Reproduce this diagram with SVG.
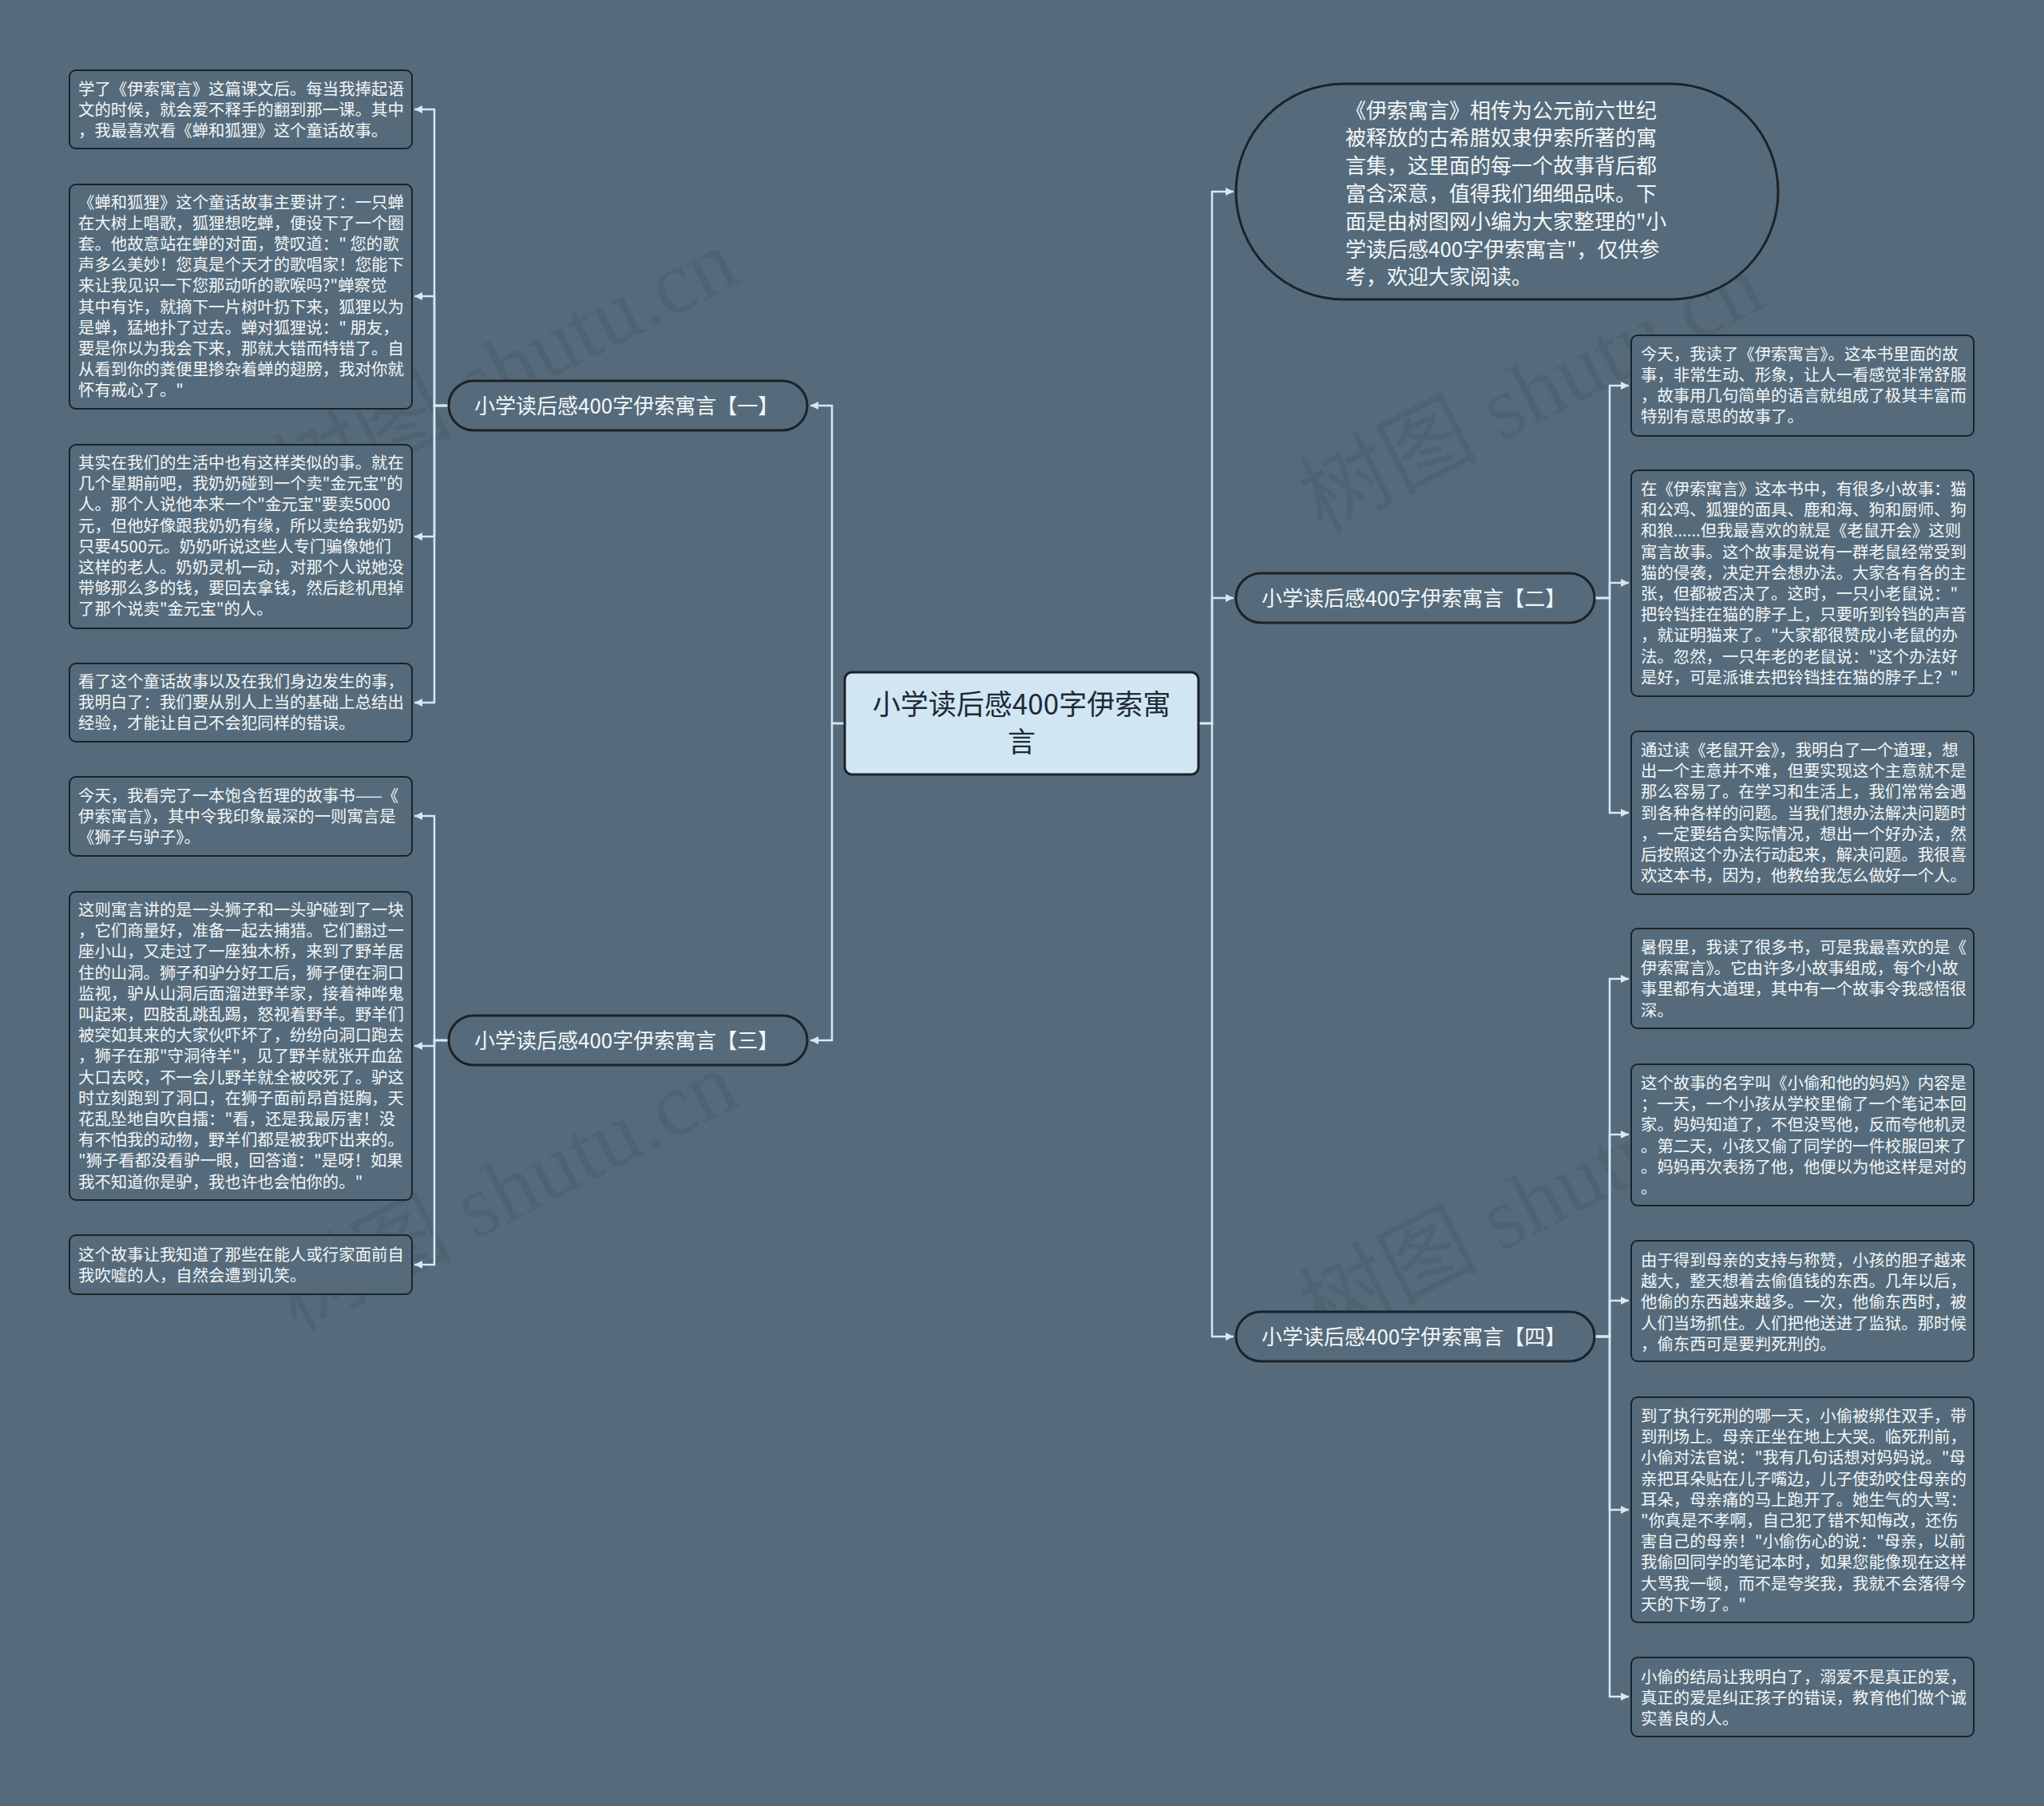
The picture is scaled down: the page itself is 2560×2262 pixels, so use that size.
<svg xmlns="http://www.w3.org/2000/svg" width="2560" height="2262" viewBox="0 0 2560 2262">
<defs>
<marker id="arr" markerUnits="userSpaceOnUse" markerWidth="12" markerHeight="12" refX="10" refY="5" orient="auto">
<path d="M0,0 L10,5 L0,10 z" fill="#d5e8f4"/>
</marker>
<style>
.bg{fill:#556b7b}
.leaf{fill:#556b7b;stroke:#1b2228;stroke-width:2}
.pill{fill:#556b7b;stroke:#1b2228;stroke-width:3}
.t{font-family:"Noto Sans CJK SC","Noto Sans",sans-serif;fill:#f3f6f8}
.lt{font-size:20.4px}
.bt{font-size:26px}
.ct{font-family:"Noto Sans CJK SC","Noto Sans",sans-serif;font-size:35px;fill:#1e2a33}
.edge{fill:none;stroke:#d5e8f4;stroke-width:2.5;marker-end:url(#arr)}
.wm{font-family:"Liberation Serif","Noto Sans CJK SC",serif;font-size:112px;fill:#3e4f5c;opacity:0.24}
</style>
</defs>
<rect class="bg" x="0" y="0" width="2560" height="2262"/>

<g id="watermarks">
<text class="wm" text-anchor="middle" transform="translate(650,495) rotate(-27)">树图 shutu.cn</text>
<text class="wm" text-anchor="middle" transform="translate(650,1525) rotate(-27)">树图 shutu.cn</text>
<text class="wm" text-anchor="middle" transform="translate(1935,525) rotate(-27)">树图 shutu.cn</text>
<text class="wm" text-anchor="middle" transform="translate(1935,1540) rotate(-27)">树图 shutu.cn</text>
</g>

<g id="connectors">
<path class="edge" d="M1058,906 H1042 V508 H1015"/>
<path class="edge" d="M1058,906 H1042 V1303 H1015"/>
<path class="edge" d="M1501,906 H1518 V240 H1545"/>
<path class="edge" d="M1501,906 H1518 V749 H1545"/>
<path class="edge" d="M1501,906 H1518 V1674 H1545"/>
<path class="edge" d="M562,508 H544 V137 H519"/>
<path class="edge" d="M562,508 H544 V371 H519"/>
<path class="edge" d="M562,508 H544 V672 H519"/>
<path class="edge" d="M562,508 H544 V880 H519"/>
<path class="edge" d="M562,1303 H544 V1022 H519"/>
<path class="edge" d="M562,1303 H544 V1310 H519"/>
<path class="edge" d="M562,1303 H544 V1584 H519"/>
<path class="edge" d="M1995,749 H2016 V483 H2040"/>
<path class="edge" d="M1995,749 H2016 V730 H2040"/>
<path class="edge" d="M1995,749 H2016 V1018 H2040"/>
<path class="edge" d="M1995,1674 H2016 V1226 H2040"/>
<path class="edge" d="M1995,1674 H2016 V1421 H2040"/>
<path class="edge" d="M1995,1674 H2016 V1629 H2040"/>
<path class="edge" d="M1995,1674 H2016 V1891 H2040"/>
<path class="edge" d="M1995,1674 H2016 V2125 H2040"/>
</g>

<g id="center">
<rect x="1058" y="842" width="443" height="128" rx="9" fill="#d0e6f3" stroke="#1b2228" stroke-width="3"/>
<text class="ct" text-anchor="middle"><tspan x="1279.5" y="895">小学读后感400字伊索寓</tspan><tspan x="1279.5" y="942">言</tspan></text>
</g>

<g id="intro">
<rect class="pill" x="1548" y="105" width="679" height="270" rx="135"/>
<text class="t bt"><tspan x="1685" y="147.5">《伊索寓言》相传为公元前六世纪</tspan><tspan x="1685" dy="34.8">被释放的古希腊奴隶伊索所著的寓</tspan><tspan x="1685" dy="34.8">言集，这里面的每一个故事背后都</tspan><tspan x="1685" dy="34.8">富含深意，值得我们细细品味。下</tspan><tspan x="1685" dy="34.8">面是由树图网小编为大家整理的"小</tspan><tspan x="1685" dy="34.8">学读后感400字伊索寓言"，仅供参</tspan><tspan x="1685" dy="34.8">考，欢迎大家阅读。</tspan></text>
</g>

<g id="branch1">
<rect class="pill" x="562" y="477" width="449" height="62" rx="31"/>
<text class="t bt" x="594" y="517.5">小学读后感400字伊索寓言【一】</text>
</g>
<g id="branch3">
<rect class="pill" x="562" y="1272" width="449" height="62" rx="31"/>
<text class="t bt" x="594" y="1312.5">小学读后感400字伊索寓言【三】</text>
</g>
<g id="branch2">
<rect class="pill" x="1548" y="718" width="449" height="62" rx="31"/>
<text class="t bt" x="1580" y="758.5">小学读后感400字伊索寓言【二】</text>
</g>
<g id="branch4">
<rect class="pill" x="1548" y="1643" width="449" height="62" rx="31"/>
<text class="t bt" x="1580" y="1683.5">小学读后感400字伊索寓言【四】</text>
</g>

<g id="leaf-l1">
<rect class="leaf" x="87" y="88" width="429" height="98" rx="8"/>
<text class="t lt"><tspan x="98" y="119">学了《伊索寓言》这篇课文后。每当我捧起语</tspan><tspan x="98" dy="26.2">文的时候，就会爱不释手的翻到那一课。其中</tspan><tspan x="98" dy="26.2">，我最喜欢看《蝉和狐狸》这个童话故事。</tspan></text>
</g>
<g id="leaf-l2">
<rect class="leaf" x="87" y="231" width="429" height="281" rx="8"/>
<text class="t lt"><tspan x="98" y="260.5">《蝉和狐狸》这个童话故事主要讲了：一只蝉</tspan><tspan x="98" dy="26.2">在大树上唱歌，狐狸想吃蝉，便设下了一个圈</tspan><tspan x="98" dy="26.2">套。他故意站在蝉的对面，赞叹道：" 您的歌</tspan><tspan x="98" dy="26.2">声多么美妙！您真是个天才的歌唱家！您能下</tspan><tspan x="98" dy="26.2">来让我见识一下您那动听的歌喉吗?"蝉察觉</tspan><tspan x="98" dy="26.2">其中有诈，就摘下一片树叶扔下来，狐狸以为</tspan><tspan x="98" dy="26.2">是蝉，猛地扑了过去。蝉对狐狸说：" 朋友，</tspan><tspan x="98" dy="26.2">要是你以为我会下来，那就大错而特错了。自</tspan><tspan x="98" dy="26.2">从看到你的粪便里掺杂着蝉的翅膀，我对你就</tspan><tspan x="98" dy="26.2">怀有戒心了。"</tspan></text>
</g>
<g id="leaf-l3">
<rect class="leaf" x="87" y="557" width="429" height="230" rx="8"/>
<text class="t lt"><tspan x="98" y="587">其实在我们的生活中也有这样类似的事。就在</tspan><tspan x="98" dy="26.2">几个星期前吧，我奶奶碰到一个卖"金元宝"的</tspan><tspan x="98" dy="26.2">人。那个人说他本来一个"金元宝"要卖5000</tspan><tspan x="98" dy="26.2">元，但他好像跟我奶奶有缘，所以卖给我奶奶</tspan><tspan x="98" dy="26.2">只要4500元。奶奶听说这些人专门骗像她们</tspan><tspan x="98" dy="26.2">这样的老人。奶奶灵机一动，对那个人说她没</tspan><tspan x="98" dy="26.2">带够那么多的钱，要回去拿钱，然后趁机甩掉</tspan><tspan x="98" dy="26.2">了那个说卖"金元宝"的人。</tspan></text>
</g>
<g id="leaf-l4">
<rect class="leaf" x="87" y="831" width="429" height="98" rx="8"/>
<text class="t lt"><tspan x="98" y="861">看了这个童话故事以及在我们身边发生的事，</tspan><tspan x="98" dy="26.2">我明白了：我们要从别人上当的基础上总结出</tspan><tspan x="98" dy="26.2">经验，才能让自己不会犯同样的错误。</tspan></text>
</g>
<g id="leaf-l5">
<rect class="leaf" x="87" y="973" width="429" height="99" rx="8"/>
<text class="t lt"><tspan x="98" y="1004">今天，我看完了一本饱含哲理的故事书——《</tspan><tspan x="98" dy="26.2">伊索寓言》，其中令我印象最深的一则寓言是</tspan><tspan x="98" dy="26.2">《狮子与驴子》。</tspan></text>
</g>
<g id="leaf-l6">
<rect class="leaf" x="87" y="1117" width="429" height="386" rx="8"/>
<text class="t lt"><tspan x="98" y="1147">这则寓言讲的是一头狮子和一头驴碰到了一块</tspan><tspan x="98" dy="26.2">，它们商量好，准备一起去捕猎。它们翻过一</tspan><tspan x="98" dy="26.2">座小山，又走过了一座独木桥，来到了野羊居</tspan><tspan x="98" dy="26.2">住的山洞。狮子和驴分好工后，狮子便在洞口</tspan><tspan x="98" dy="26.2">监视，驴从山洞后面溜进野羊家，接着神哗鬼</tspan><tspan x="98" dy="26.2">叫起来，四肢乱跳乱踢，怒视着野羊。野羊们</tspan><tspan x="98" dy="26.2">被突如其来的大家伙吓坏了，纷纷向洞口跑去</tspan><tspan x="98" dy="26.2">，狮子在那"守洞待羊"，见了野羊就张开血盆</tspan><tspan x="98" dy="26.2">大口去咬，不一会儿野羊就全被咬死了。驴这</tspan><tspan x="98" dy="26.2">时立刻跑到了洞口，在狮子面前昂首挺胸，天</tspan><tspan x="98" dy="26.2">花乱坠地自吹自擂："看，还是我最厉害！没</tspan><tspan x="98" dy="26.2">有不怕我的动物，野羊们都是被我吓出来的。</tspan><tspan x="98" dy="26.2">"狮子看都没看驴一眼，回答道："是呀！如果</tspan><tspan x="98" dy="26.2">我不知道你是驴，我也许也会怕你的。"</tspan></text>
</g>
<g id="leaf-l7">
<rect class="leaf" x="87" y="1547" width="429" height="74" rx="8"/>
<text class="t lt"><tspan x="98" y="1579">这个故事让我知道了那些在能人或行家面前自</tspan><tspan x="98" dy="26.2">我吹嘘的人，自然会遭到讥笑。</tspan></text>
</g>

<g id="leaf-r1">
<rect class="leaf" x="2043" y="420" width="429" height="126" rx="8"/>
<text class="t lt"><tspan x="2055" y="450.5">今天，我读了《伊索寓言》。这本书里面的故</tspan><tspan x="2055" dy="26.2">事，非常生动、形象，让人一看感觉非常舒服</tspan><tspan x="2055" dy="26.2">，故事用几句简单的语言就组成了极其丰富而</tspan><tspan x="2055" dy="26.2">特别有意思的故事了。</tspan></text>
</g>
<g id="leaf-r2">
<rect class="leaf" x="2043" y="589" width="429" height="283" rx="8"/>
<text class="t lt"><tspan x="2055" y="620">在《伊索寓言》这本书中，有很多小故事：猫</tspan><tspan x="2055" dy="26.2">和公鸡、狐狸的面具、鹿和海、狗和厨师、狗</tspan><tspan x="2055" dy="26.2">和狼......但我最喜欢的就是《老鼠开会》这则</tspan><tspan x="2055" dy="26.2">寓言故事。这个故事是说有一群老鼠经常受到</tspan><tspan x="2055" dy="26.2">猫的侵袭，决定开会想办法。大家各有各的主</tspan><tspan x="2055" dy="26.2">张，但都被否决了。这时，一只小老鼠说："</tspan><tspan x="2055" dy="26.2">把铃铛挂在猫的脖子上，只要听到铃铛的声音</tspan><tspan x="2055" dy="26.2">，就证明猫来了。"大家都很赞成小老鼠的办</tspan><tspan x="2055" dy="26.2">法。忽然，一只年老的老鼠说："这个办法好</tspan><tspan x="2055" dy="26.2">是好，可是派谁去把铃铛挂在猫的脖子上？"</tspan></text>
</g>
<g id="leaf-r3">
<rect class="leaf" x="2043" y="916" width="429" height="204" rx="8"/>
<text class="t lt"><tspan x="2055" y="947">通过读《老鼠开会》，我明白了一个道理，想</tspan><tspan x="2055" dy="26.2">出一个主意并不难，但要实现这个主意就不是</tspan><tspan x="2055" dy="26.2">那么容易了。在学习和生活上，我们常常会遇</tspan><tspan x="2055" dy="26.2">到各种各样的问题。当我们想办法解决问题时</tspan><tspan x="2055" dy="26.2">，一定要结合实际情况，想出一个好办法，然</tspan><tspan x="2055" dy="26.2">后按照这个办法行动起来，解决问题。我很喜</tspan><tspan x="2055" dy="26.2">欢这本书，因为，他教给我怎么做好一个人。</tspan></text>
</g>
<g id="leaf-r4">
<rect class="leaf" x="2043" y="1163" width="429" height="125" rx="8"/>
<text class="t lt"><tspan x="2055" y="1194">暑假里，我读了很多书，可是我最喜欢的是《</tspan><tspan x="2055" dy="26.2">伊索寓言》。它由许多小故事组成，每个小故</tspan><tspan x="2055" dy="26.2">事里都有大道理，其中有一个故事令我感悟很</tspan><tspan x="2055" dy="26.2">深。</tspan></text>
</g>
<g id="leaf-r5">
<rect class="leaf" x="2043" y="1333" width="429" height="177" rx="8"/>
<text class="t lt"><tspan x="2055" y="1364">这个故事的名字叫《小偷和他的妈妈》内容是</tspan><tspan x="2055" dy="26.2">；一天，一个小孩从学校里偷了一个笔记本回</tspan><tspan x="2055" dy="26.2">家。妈妈知道了，不但没骂他，反而夸他机灵</tspan><tspan x="2055" dy="26.2">。第二天，小孩又偷了同学的一件校服回来了</tspan><tspan x="2055" dy="26.2">。妈妈再次表扬了他，他便以为他这样是对的</tspan><tspan x="2055" dy="26.2">。</tspan></text>
</g>
<g id="leaf-r6">
<rect class="leaf" x="2043" y="1554" width="429" height="151" rx="8"/>
<text class="t lt"><tspan x="2055" y="1586">由于得到母亲的支持与称赞，小孩的胆子越来</tspan><tspan x="2055" dy="26.2">越大，整天想着去偷值钱的东西。几年以后，</tspan><tspan x="2055" dy="26.2">他偷的东西越来越多。一次，他偷东西时，被</tspan><tspan x="2055" dy="26.2">人们当场抓住。人们把他送进了监狱。那时候</tspan><tspan x="2055" dy="26.2">，偷东西可是要判死刑的。</tspan></text>
</g>
<g id="leaf-r7">
<rect class="leaf" x="2043" y="1750" width="429" height="282" rx="8"/>
<text class="t lt"><tspan x="2055" y="1781">到了执行死刑的哪一天，小偷被绑住双手，带</tspan><tspan x="2055" dy="26.2">到刑场上。母亲正坐在地上大哭。临死刑前，</tspan><tspan x="2055" dy="26.2">小偷对法官说："我有几句话想对妈妈说。"母</tspan><tspan x="2055" dy="26.2">亲把耳朵贴在儿子嘴边，儿子使劲咬住母亲的</tspan><tspan x="2055" dy="26.2">耳朵，母亲痛的马上跑开了。她生气的大骂：</tspan><tspan x="2055" dy="26.2">"你真是不孝啊，自己犯了错不知悔改，还伤</tspan><tspan x="2055" dy="26.2">害自己的母亲！"小偷伤心的说："母亲，以前</tspan><tspan x="2055" dy="26.2">我偷回同学的笔记本时，如果您能像现在这样</tspan><tspan x="2055" dy="26.2">大骂我一顿，而不是夸奖我，我就不会落得今</tspan><tspan x="2055" dy="26.2">天的下场了。"</tspan></text>
</g>
<g id="leaf-r8">
<rect class="leaf" x="2043" y="2076" width="429" height="99" rx="8"/>
<text class="t lt"><tspan x="2055" y="2108">小偷的结局让我明白了，溺爱不是真正的爱，</tspan><tspan x="2055" dy="26.2">真正的爱是纠正孩子的错误，教育他们做个诚</tspan><tspan x="2055" dy="26.2">实善良的人。</tspan></text>
</g>
</svg>
